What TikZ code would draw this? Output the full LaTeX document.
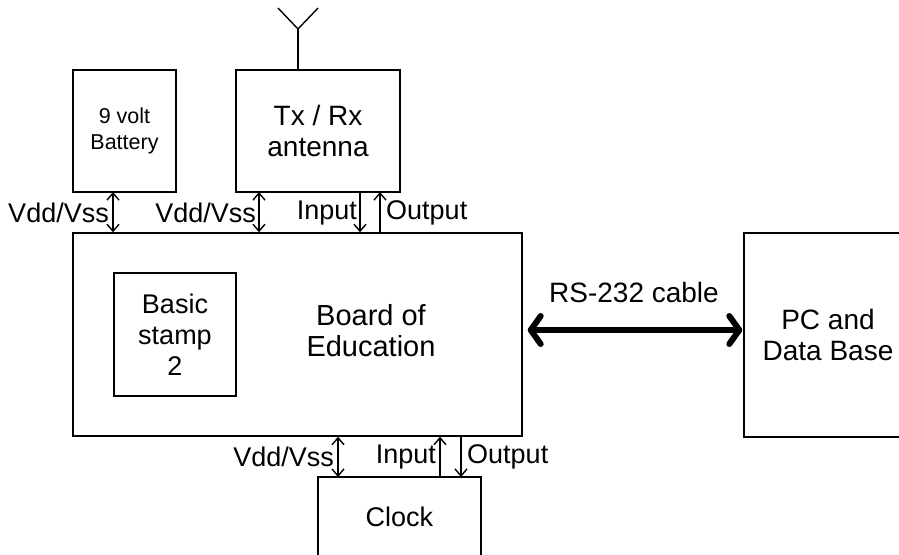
\documentclass[tikz,border=0pt]{standalone}
\usepackage{fontspec}
\setmainfont{Liberation Sans}
\usetikzlibrary{arrows.meta}
\tikzset{
  box/.style={draw, line width=1.4pt, inner sep=0pt, align=center, font=\fontsize{28}{31}\selectfont},
  lbl/.style={inner sep=0pt, font=\fontsize{27}{31}\selectfont},
  sig/.style={line width=1.4pt},
  sarr/.style={sig, arrows={-Straight Barb[length=7pt,width=12pt,line width=1.4pt]}},
  darr/.style={sig, arrows={Straight Barb[length=7pt,width=12pt,line width=1.4pt]-Straight Barb[length=7pt,width=12pt,line width=1.4pt]}},
  cable/.style={line width=6pt, line cap=round, arrows={Straight Barb[length=10pt,width=28pt,round]-Straight Barb[length=10pt,width=28pt,round]}}
}
\begin{document}
\begin{tikzpicture}[x=1pt,y=-1pt]
\clip (0,0) rectangle (899,554);
\fill[white] (0,0) rectangle (899,554);
% boxes
\node[box, minimum width=103pt, minimum height=122pt, font=\fontsize{21.5}{26}\selectfont] (bat) at (124.5,131) {9 volt\\Battery};
\node[box, minimum width=164pt, minimum height=122pt] (ant) at (318,131) {Tx / Rx\\antenna};
\node[box, minimum width=449pt, minimum height=203pt] (board) at (297.5,334.5) {};
\node[lbl, align=center, font=\fontsize{29}{31}\selectfont] (boardtxt) at (371,331) {Board of\\Education};
\node[box, minimum width=122pt, minimum height=123pt, font=\fontsize{27}{31}\selectfont] (stamp) at (175,334.5) {Basic\\stamp\\2};
\node[box, minimum width=168pt, minimum height=204pt] (pc) at (828,335) {PC and\\Data Base};
\node[box, minimum width=163pt, minimum height=80pt, font=\fontsize{27}{31}\selectfont] (clock) at (399.5,517) {Clock};
% antenna mast
\coordinate (mtop) at (298,29);
\draw[sig] (ant.north -| mtop) -- (mtop);
\coordinate (armL) at (278,8);
\coordinate (armR) at (318,8);
\draw[sig] (armL) -- (mtop) -- (armR);
% top connectors
\coordinate (c1) at (113,192);
\coordinate (c2) at (259,192);
\coordinate (c3) at (360,192);
\coordinate (c4) at (380,192);
\draw[darr] (c1) -- (c1 |- board.north);
\draw[darr] (c2) -- (c2 |- board.north);
\draw[sarr] (c3) -- (c3 |- board.north);
\draw[sarr] (c4 |- board.north) -- (c4);
\node[lbl, anchor=east] (l1) at (109,213) {Vdd/Vss};
\node[lbl, anchor=east] (l2) at (256,213) {Vdd/Vss};
\node[lbl, anchor=east] (l3) at (357,213) {Input};
\node[lbl, anchor=west] (l4) at (386,213) {Output};
% bottom connectors
\coordinate (d1) at (338,477);
\coordinate (d2) at (440,477);
\coordinate (d3) at (461,477);
\draw[darr] (d1) -- (d1 |- board.south);
\draw[sarr] (d2) -- (d2 |- board.south);
\draw[sarr] (d3 |- board.south) -- (d3);
\node[lbl, anchor=east] (b1) at (334,457) {Vdd/Vss};
\node[lbl, anchor=east] (b2) at (436,457) {Input};
\node[lbl, anchor=west] (b3) at (467,457) {Output};
% cable
\draw[cable] ([xshift=5pt]board.east |- 0,330) -- ([xshift=-1pt]pc.west |- 0,330);
\node[lbl, font=\fontsize{28}{31}\selectfont] (cablelbl) at (634,292) {RS-232 cable};
\end{tikzpicture}
\end{document}
